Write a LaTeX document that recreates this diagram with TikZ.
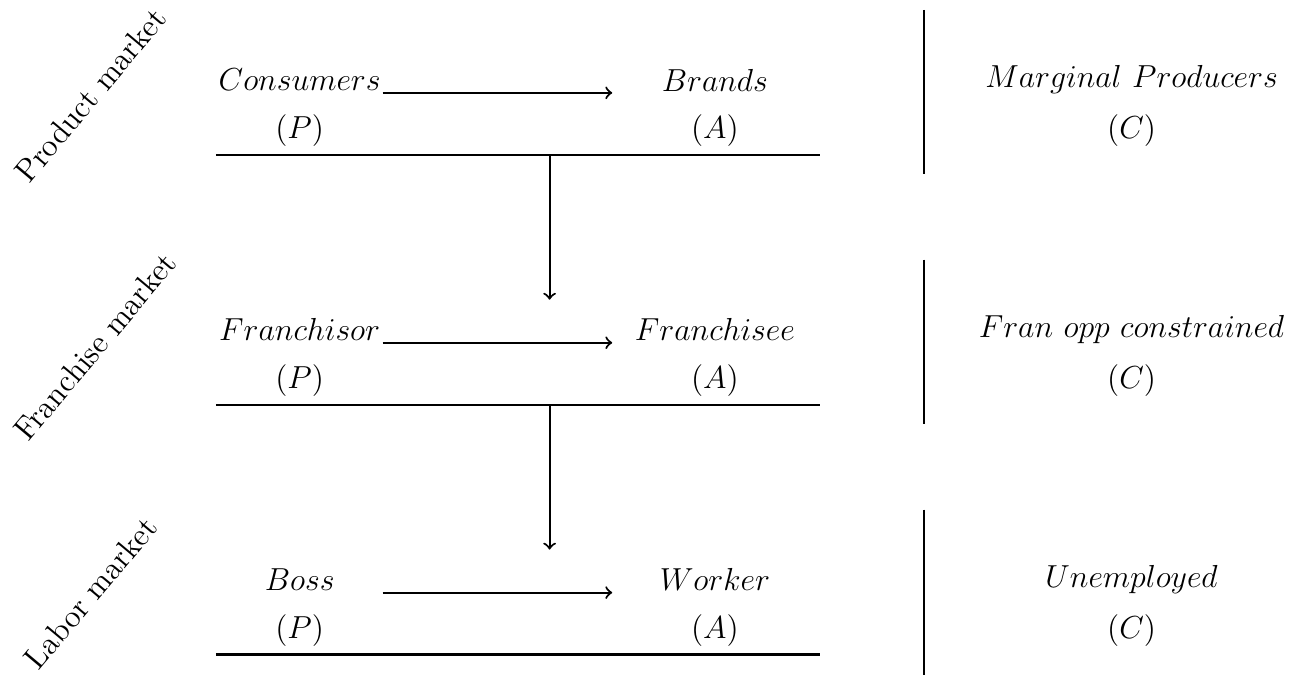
\documentclass[tikz,border=0pt,12pt]{standalone}
\usepackage{tikz}
\usetikzlibrary{arrows}
\tikzstyle{player} = [inner sep=0pt, text centered]
\tikzstyle{market} = [rotate=50, inner sep=0pt]
\tikzstyle{single} = [draw, thick, ->]
\tikzstyle{rule}   = [draw, thick]

\begin{document}
\begin{tikzpicture}
    \useasboundingbox (-2.86,2.05) rectangle (14.40,-6.89);
    % product market
    \node[market](prod) at (-1.66,0.79){Product market};
    \node[player](cons) at (1.11,0.99){$Consumers$};
    \node[player](consP) at (1.11,0.32){$(P)$};
    \node[player](brand) at (6.61,0.99){$Brands$};
    \node[player](brandA) at (6.61,0.32){$(A)$};
    \node[player](marg) at (12.13,0.99){$Marginal\ Producers$};
    \node[player](margC) at (12.13,0.32){$(C)$};
    \coordinate (p1) at (2.21,0.82);
    \coordinate (p2) at (5.25,0.82);
    \path[single](p1) -- (p2);
    \coordinate (l1) at (0,0);
    \coordinate (r1) at (8,0);
    \path[rule](l1) -- (r1);
    \coordinate (t1) at (9.38,1.92);
    \coordinate (b1) at (9.38,-0.26);
    \path[rule](t1) -- (b1);
    \coordinate (d1) at (4.42,0);
    \coordinate (e1) at (4.42,-1.92);
    \path[single](d1) -- (e1);
    % franchise market
    \node[market](fran) at (-1.60,-2.54){Franchise market};
    \node[player](fsor) at (1.11,-2.32){$Franchisor$};
    \node[player](fsorP) at (1.11,-2.99){$(P)$};
    \node[player](fsee) at (6.61,-2.32){$Franchisee$};
    \node[player](fseeA) at (6.61,-2.99){$(A)$};
    \node[player](fopp) at (12.13,-2.32){$Fran\ opp\ constrained$};
    \node[player](foppC) at (12.13,-2.99){$(C)$};
    \coordinate (p3) at (2.21,-2.49);
    \coordinate (p4) at (5.25,-2.49);
    \path[single](p3) -- (p4);
    \coordinate (l2) at (0,-3.31);
    \coordinate (r2) at (8,-3.31);
    \path[rule](l2) -- (r2);
    \coordinate (t2) at (9.38,-1.39);
    \coordinate (b2) at (9.38,-3.57);
    \path[rule](t2) -- (b2);
    \coordinate (d2) at (4.42,-3.31);
    \coordinate (e2) at (4.42,-5.23);
    \path[single](d2) -- (e2);
    % labor market
    \node[market](labor) at (-1.66,-5.80){Labor market};
    \node[player](boss) at (1.11,-5.63){$Boss$};
    \node[player](bossP) at (1.11,-6.30){$(P)$};
    \node[player](work) at (6.61,-5.63){$Worker$};
    \node[player](workA) at (6.61,-6.30){$(A)$};
    \node[player](unemp) at (12.13,-5.63){$Unemployed$};
    \node[player](unempC) at (12.13,-6.30){$(C)$};
    \coordinate (p5) at (2.21,-5.80);
    \coordinate (p6) at (5.25,-5.80);
    \path[single](p5) -- (p6);
    \coordinate (l3) at (0,-6.62);
    \coordinate (r3) at (8,-6.62);
    \path[rule](l3) -- (r3);
    \coordinate (t3) at (9.38,-4.70);
    \coordinate (b3) at (9.38,-6.89);
    \path[rule](t3) -- (b3);
\end{tikzpicture}
\end{document}
